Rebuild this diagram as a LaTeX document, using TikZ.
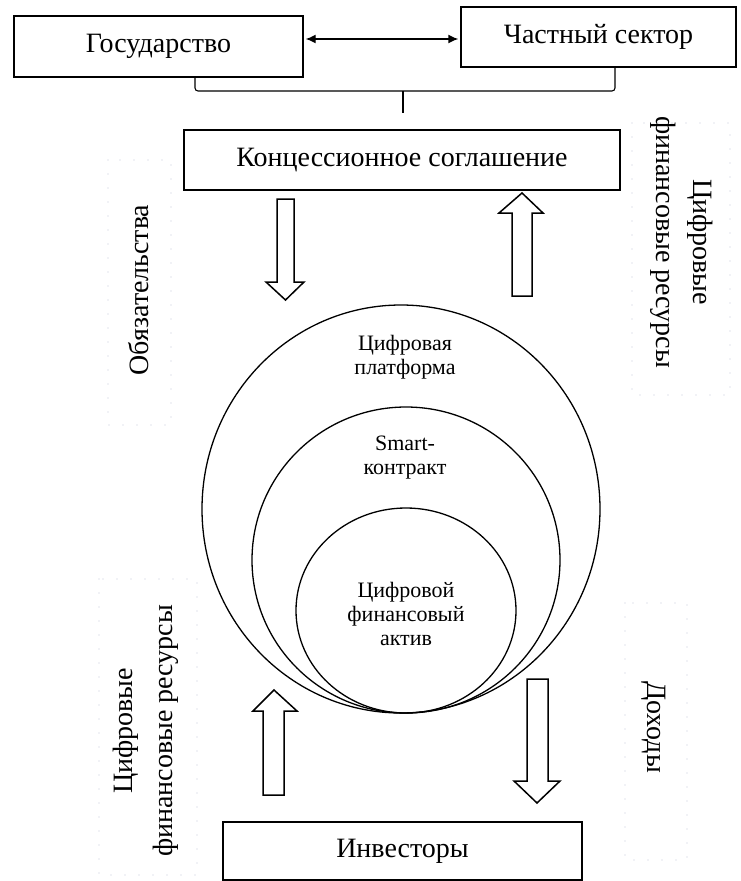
\documentclass[tikz,border=0pt]{standalone}
\usepackage{fontspec}
\setmainfont{Liberation Serif}
\usetikzlibrary{shapes.geometric,arrows.meta}
\begin{document}
\begin{tikzpicture}[x=1pt,y=-1pt,
  box/.style={draw, line width=1.4pt, inner sep=0pt, font=\fontsize{28}{30}\selectfont},
  ring/.style={draw, ellipse, line width=1.3pt, inner sep=0pt},
  ringtext/.style={align=center, inner sep=0pt, font=\fontsize{22}{24}\selectfont},
  sidetext/.style={align=center, inner sep=0pt, font=\fontsize{28}{37}\selectfont},
  dotframe/.style={draw={rgb,255:red,195;green,200;blue,215}, line width=1.3pt,
    line cap=round, dash pattern=on 0pt off 14pt},
  blockarrow/.style={draw, line width=1.5pt, fill=white, line join=miter},
  link/.style={line width=1.4pt},
]
\useasboundingbox (0,0) rectangle (740,881);

% dotted frames behind the side captions
\draw[dotframe] (108,160) rectangle (171,425);
\draw[dotframe] (632,123) rectangle (730,395);
\draw[dotframe] (99,579) rectangle (197,875);
\draw[dotframe] (625,603) rectangle (687,860);

% boxes
\node[box, minimum width=289pt, minimum height=61pt] (gos) at (158.5,46.5) {Государство};
\node[box, minimum width=275pt, minimum height=60pt] (chast) at (598.5,37) {Частный сектор};
\node[box, minimum width=436pt, minimum height=60pt] (conc) at (402,160) {Концессионное соглашение};
\node[box, minimum width=359pt, minimum height=58pt] (invest) at (402.5,851) {Инвесторы};

% two-way link between the parties
\coordinate (arr) at (0,39);
\draw[link, {Latex[length=10pt,width=9pt]}-{Latex[length=10pt,width=9pt]}, shorten <=2pt, shorten >=2pt]
  (gos.east |- arr) -- (chast.west |- arr);

% bracket joining both parties into the agreement
\coordinate (brL) at (195,91);
\coordinate (brR) at (615,91);
\coordinate (brM) at (403,113);
\draw[line width=1.1pt, rounded corners=3pt] (gos.south -| brL) -- (brL) -- (brR) -- (chast.south -| brR);
\draw[line width=1.1pt] (brM |- brL) -- (brM);

% nested rings
\node[ring, minimum width=398pt, minimum height=408pt] (outer) at (401,509) {};
\node[ring, minimum width=308pt, minimum height=306pt] (middle) at (406,560) {};
\node[ring, minimum width=220pt, minimum height=205pt] (inner) at (406,610.5) {};
\node[ringtext] (platform) at (405,357) {Цифровая\\платформа};
\node[ringtext] (smart) at (405,458) {Smart-\\контракт};
\node[ringtext] (asset) at (406,614) {Цифровой\\финансовый\\актив};

% hollow block arrows
\draw[blockarrow] (277,199) -- (294,199) -- (294,282) -- (304,282) -- (285.5,300)
  -- (266,282) -- (277,282) -- cycle;
\draw[blockarrow] (512,296) -- (532,296) -- (532,213) -- (543,213) -- (522,193)
  -- (499,213) -- (512,213) -- cycle;
\draw[blockarrow] (263,795) -- (284,795) -- (284,711) -- (297,711) -- (274,690)
  -- (253,711) -- (263,711) -- cycle;
\draw[blockarrow] (527,679) -- (548,679) -- (548,781) -- (560,781) -- (537,803)
  -- (514,781) -- (527,781) -- cycle;

% side captions
\node[sidetext, rotate=90] (oblig) at (139,290) {Обязательства};
\node[sidetext, rotate=-90] (resTop) at (682,242) {Цифровые\\финансовые ресурсы};
\node[sidetext, rotate=90, font=\fontsize{28}{40}\selectfont] (resBot) at (146,731) {Цифровые\\финансовые ресурсы};
\node[sidetext, rotate=-90] (income) at (654,727) {Доходы};
\end{tikzpicture}
\end{document}
